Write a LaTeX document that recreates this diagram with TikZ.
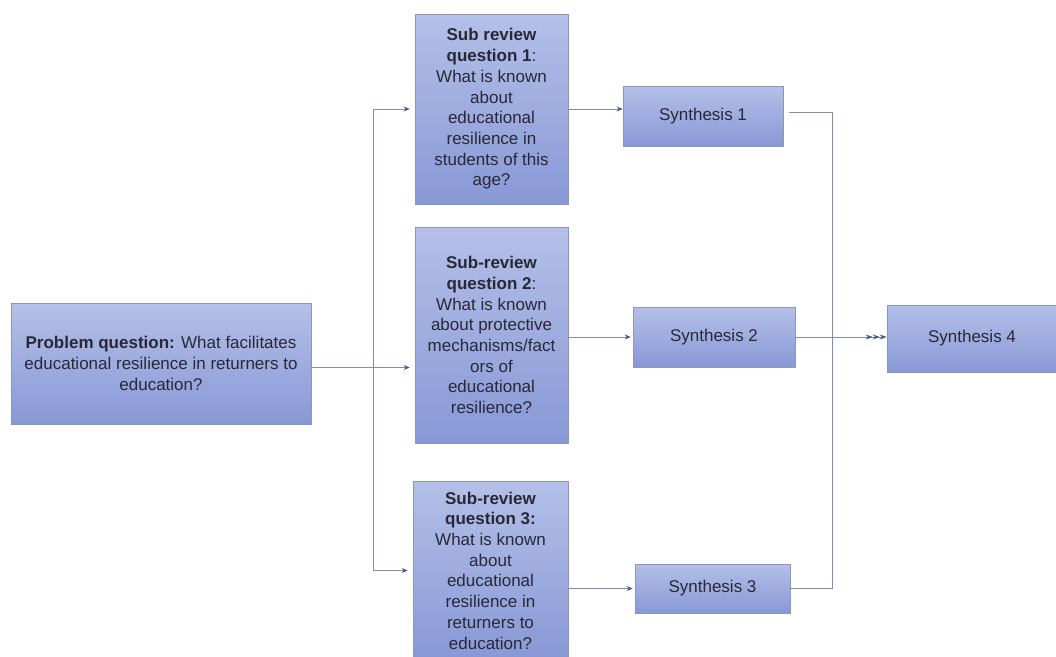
\documentclass[tikz,border=0pt]{standalone}
\usepackage{fontspec}
\setmainfont{Liberation Sans}
\usetikzlibrary{arrows.meta,calc}
\definecolor{boxtop}{RGB}{180,192,232}
\definecolor{boxbot}{RGB}{136,152,214}
\definecolor{boxedge}{RGB}{140,150,185}
\definecolor{linkcol}{RGB}{125,140,185}
\definecolor{tipcol}{RGB}{75,88,135}
\definecolor{txt}{RGB}{40,40,55}

\begin{document}
\begin{tikzpicture}[x=1pt,y=-1pt,
  qbox/.style={draw=boxedge, line width=0.6pt, top color=boxtop, bottom color=boxbot,
    text=txt, align=center, inner sep=2pt, font=\fontsize{17}{20.7}\selectfont},
  link/.style={draw=linkcol, line width=0.9pt},
  tip/.style={-{Stealth[length=6pt,width=5pt,color=tipcol]}},
  tripletip/.style={-{Stealth[length=7pt,width=5pt,color=tipcol]Stealth[length=7pt,width=5pt,color=tipcol]Stealth[length=7pt,width=5pt,color=tipcol]}}]
\useasboundingbox (0,0) rectangle (1056,656);
\clip (0,0) rectangle (1056,656);
\fill[white] (0,0) rectangle (1056,656);

% question boxes
\node[qbox, minimum width=300pt, minimum height=121pt] (prob) at (161,363.5)
  {\textbf{Problem question:} What facilitates\\educational resilience in returners to\\education?};
\node[qbox, minimum width=153pt, minimum height=190pt] (sub1) at (491.5,109)
  {\textbf{Sub review}\\\textbf{question 1}:\\What is known\\about\\educational\\resilience in\\students of this\\age?};
\node[qbox, minimum width=153pt, minimum height=216pt] (sub2) at (491.5,335)
  {\textbf{Sub-review}\\\textbf{question 2}:\\What is known\\about protective\\mechanisms/fact\\ors of\\educational\\resilience?};
\node[qbox, minimum width=155pt, minimum height=179pt] (sub3) at (490.5,570.5)
  {\textbf{Sub-review}\\\textbf{question 3:}\\What is known\\about\\educational\\resilience in\\returners to\\education?};

% synthesis boxes
\node[qbox, minimum width=160pt, minimum height=60pt] (syn1) at (703,116) {Synthesis 1};
\node[qbox, minimum width=162pt, minimum height=60pt] (syn2) at (714,337) {Synthesis 2};
\node[qbox, minimum width=155pt, minimum height=49pt] (syn3) at (712.5,588.5) {Synthesis 3};
\node[qbox, minimum width=170pt, minimum height=67pt] (syn4) at (972,338.5) {Synthesis 4};

% branching trunk from the problem question
\coordinate (trunktop) at (373,109);
\coordinate (trunkbot) at (373,570.5);
\coordinate (joinx) at (832,0);
\draw[link,tip,shorten >=5pt] ([yshift=-4pt]prob.east) -- ([yshift=-4pt]sub2.west |- prob.east);
\draw[link] (trunktop) -- (trunkbot);
\draw[link,tip,shorten >=5pt] (trunktop) -- (sub1.west);
\draw[link,tip,shorten >=5pt] (trunkbot) -- (sub3.west);

% sub-reviews to syntheses
\draw[link,tip] (sub1.east) -- (sub1.east -| syn1.west);
\draw[link,tip,shorten >=2pt] (sub2.east |- syn2.west) -- (syn2.west);
\draw[link,tip,shorten >=2pt] (sub3.east |- syn3.west) -- (syn3.west);

% syntheses combined
\draw[link] ([xshift=6pt,yshift=4pt]syn1.east) -- ([yshift=4pt]syn1.east -| joinx) -- (syn3.east -| joinx) -- (syn3.east);
\draw[link,tripletip] (syn2.east) -- (syn2.east -| syn4.west);
\end{tikzpicture}
\end{document}
